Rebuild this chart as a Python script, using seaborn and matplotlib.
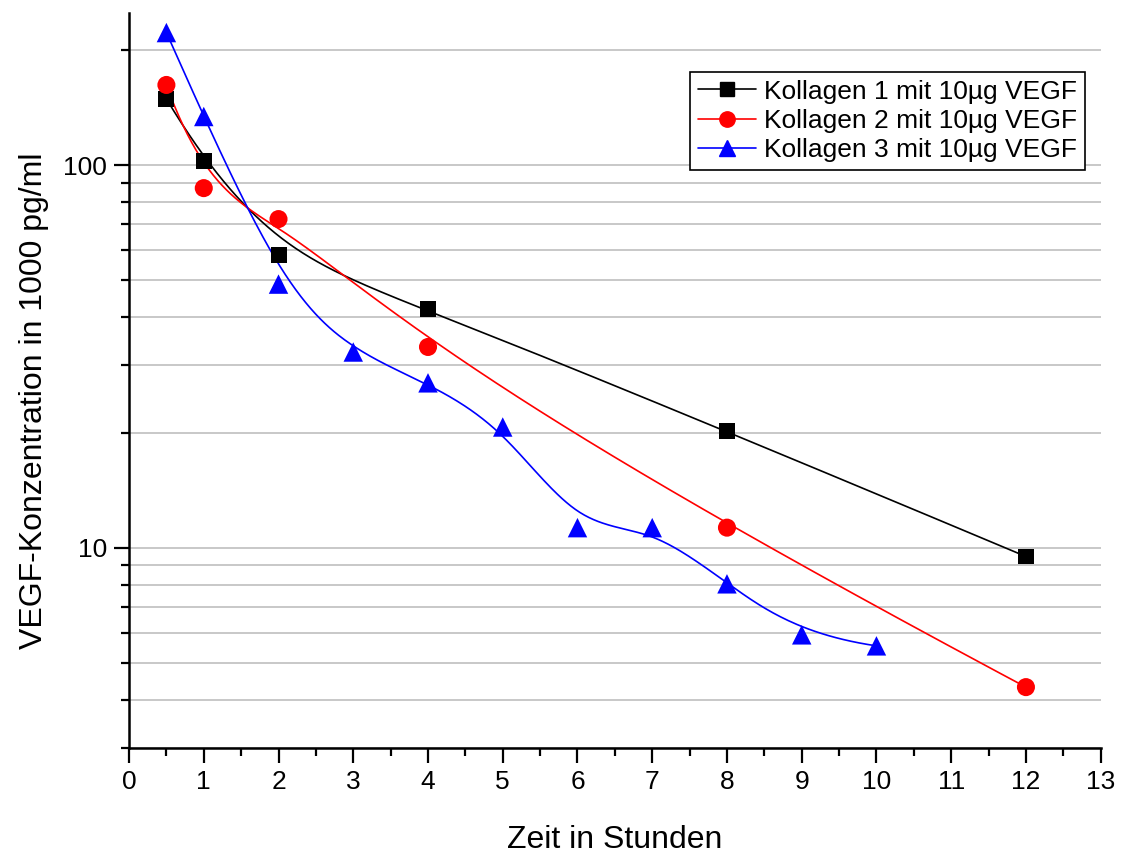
import numpy as np
import pandas as pd
import matplotlib
matplotlib.use("Agg")
import matplotlib.pyplot as plt
import seaborn as sns
from matplotlib.lines import Line2D
from matplotlib.ticker import LogLocator, FixedLocator, NullFormatter, FixedFormatter

# ---- data ----
labels = ["Kollagen 1 mit 10µg VEGF", "Kollagen 2 mit 10µg VEGF", "Kollagen 3 mit 10µg VEGF"]
x1 = [0.5, 1, 2, 4, 8, 12]
y1 = [149, 102.5, 58.2, 42.1, 20.2, 9.5]
x2 = [0.5, 1, 2, 4, 8, 12]
y2 = [162, 87.1, 72.3, 33.5, 11.3, 4.33]
x3 = [0.5, 1, 2, 3, 4, 5, 6, 7, 8, 9, 10]
y3 = [222, 134, 48.9, 32.5, 27.0, 20.7, 11.3, 11.3, 8.06, 5.93, 5.55]

colors = ["#000000", "#ff0000", "#0000ff"]
markers = ["s", "o", "^"]
msizes = [11.5, 13, 14]

sns.set_style("ticks")
plt.rcParams["font.family"] = ["Liberation Sans", "DejaVu Sans"]
plt.rcParams["text.color"] = "black"
plt.rcParams["axes.labelcolor"] = "black"


def bspline(px, py, n=400):
    """Clamped uniform cubic B-spline with the points as control points, in (x, log10 y) space."""
    P = np.column_stack([np.asarray(px, float), np.log10(np.asarray(py, float))])
    m = len(P)
    k = 3
    inner = np.arange(1, m - k)
    t = np.concatenate([np.zeros(k + 1), inner, np.full(k + 1, m - k)]).astype(float)
    u = np.linspace(0, m - k, n)
    u[-1] -= 1e-9
    N = np.zeros((n, len(t) - 1))
    for i in range(len(t) - 1):
        N[:, i] = ((u >= t[i]) & (u < t[i + 1])).astype(float)
    for d in range(1, k + 1):
        Nn = np.zeros((n, len(t) - 1 - d))
        for i in range(len(t) - 1 - d):
            a = np.zeros(n)
            b = np.zeros(n)
            if t[i + d] != t[i]:
                a = (u - t[i]) / (t[i + d] - t[i]) * N[:, i]
            if t[i + d + 1] != t[i + 1]:
                b = (t[i + d + 1] - u) / (t[i + d + 1] - t[i + 1]) * N[:, i + 1]
            Nn[:, i] = a + b
        N = Nn
    C = N @ P
    return C[:, 0], 10 ** C[:, 1]


fig = plt.figure(figsize=(11.22, 8.55), dpi=100)
ax = fig.add_axes([0.115, 0.125, 0.866, 0.860])
ax.set_yscale("log")

series = [(x1, y1), (x2, y2), (x3, y3)]
for (xs, ys), lab, c, mk, ms in zip(series, labels, colors, markers, msizes):
    cx, cy = bspline(xs, ys)
    curve = pd.DataFrame({"x": cx, "y": cy})
    sns.lineplot(data=curve, x="x", y="y", ax=ax, color=c, linewidth=1.2,
                 sort=False, estimator=None, legend=False, zorder=3)
    pts = pd.DataFrame({"x": xs, "y": ys})
    sns.scatterplot(data=pts, x="x", y="y", ax=ax, color=c, marker=mk,
                    s=ms ** 2, edgecolor="none", linewidth=0, legend=False, zorder=4)

ax.set_xlim(0, 13)
ax.set_ylim(3, 250)

ax.set_xticks(np.arange(0, 14, 1))
ax.xaxis.set_minor_locator(FixedLocator(np.arange(0.5, 13, 1)))
ax.yaxis.set_major_locator(FixedLocator([10, 100]))
ax.yaxis.set_major_formatter(FixedFormatter(["10", "100"]))
ax.yaxis.set_minor_locator(LogLocator(base=10, subs=np.arange(2, 10)))
ax.yaxis.set_minor_formatter(NullFormatter())

ax.grid(True, which="both", axis="y", color="#c4c4c4", linewidth=1.3, zorder=0)
ax.grid(False, axis="x")

for s in ["top", "right"]:
    ax.spines[s].set_visible(False)
for s in ["left", "bottom"]:
    ax.spines[s].set_linewidth(1.8)
    ax.spines[s].set_color("black")

ax.tick_params(axis="both", which="major", direction="out", length=11, width=1.6,
               labelsize=19, pad=5, colors="black", labelcolor="black")
ax.tick_params(axis="both", which="minor", direction="out", length=5.5, width=1.6, colors="black")

ax.set_xlabel("Zeit in Stunden", fontsize=23, labelpad=22)
ax.set_ylabel("VEGF-Konzentration in 1000 pg/ml", fontsize=23, labelpad=12)
ax.yaxis.set_label_coords(-0.082, 0.473)

handles = [Line2D([0], [0], color=c, marker=mk, markersize=ms * 0.85, linewidth=1.2)
           for c, mk, ms in zip(colors, markers, msizes)]
leg = ax.legend(handles, labels, loc="upper right", bbox_to_anchor=(0.9835, 0.920),
                borderaxespad=0, fontsize=19, frameon=True, fancybox=False,
                edgecolor="black", framealpha=1, handlelength=2.2, labelspacing=0.2,
                handletextpad=0.3, borderpad=0.3)
leg.get_frame().set_linewidth(1.2)
for txt in leg.get_texts():
    txt.set_color("black")

fig.savefig("out.png", dpi=100, facecolor="white")
